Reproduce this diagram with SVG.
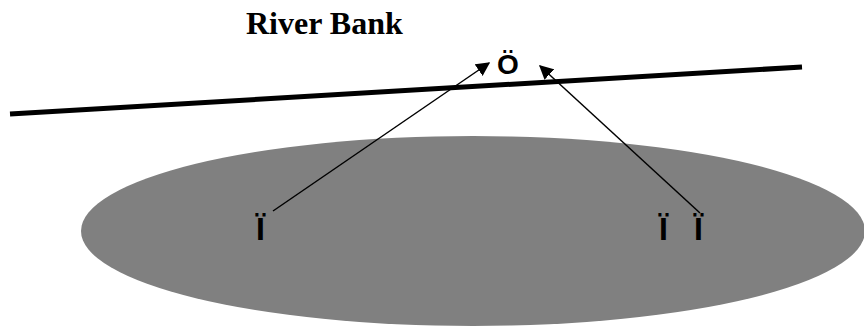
<svg xmlns="http://www.w3.org/2000/svg" width="864" height="329" viewBox="0 0 864 329">
<style>
.t{font-family:"Liberation Sans",Arial,sans-serif;font-weight:bold;fill:#000}
.c{stroke:#000;stroke-width:1.5;fill:none}
</style>
<defs>
<marker id="ah" viewBox="0 0 10 10" refX="9" refY="5" markerWidth="14" markerHeight="14" markerUnits="userSpaceOnUse" orient="auto">
<path d="M0,0 L10,5 L0,10 z" fill="#000"/>
</marker>
</defs>
<rect width="864" height="329" fill="#fff"/>
<g id="pond"><ellipse cx="473" cy="231" rx="392" ry="95" fill="#808080"/></g>
<g id="bank"><line x1="10" y1="114" x2="802" y2="67" stroke="#000" stroke-width="5"/></g>
<g id="title"><text x="246" y="34" font-family="Liberation Serif,Times New Roman,serif" font-weight="bold" font-size="32">River Bank</text></g>
<g id="nodeO"><text class="t" x="497" y="74" font-size="28">Ö</text></g>
<g id="nodeI1"><text class="t" x="256" y="240" font-size="32">Ï</text></g>
<g id="nodeI2"><text class="t" x="659" y="240" font-size="32" xml:space="preserve">Ï<tspan x="694">Ï</tspan></text></g>
<g id="connectors">
<line class="c" x1="273" y1="211" x2="489" y2="63" marker-end="url(#ah)"/>
<line class="c" x1="700" y1="213" x2="540" y2="66" marker-end="url(#ah)"/>
</g>
</svg>
